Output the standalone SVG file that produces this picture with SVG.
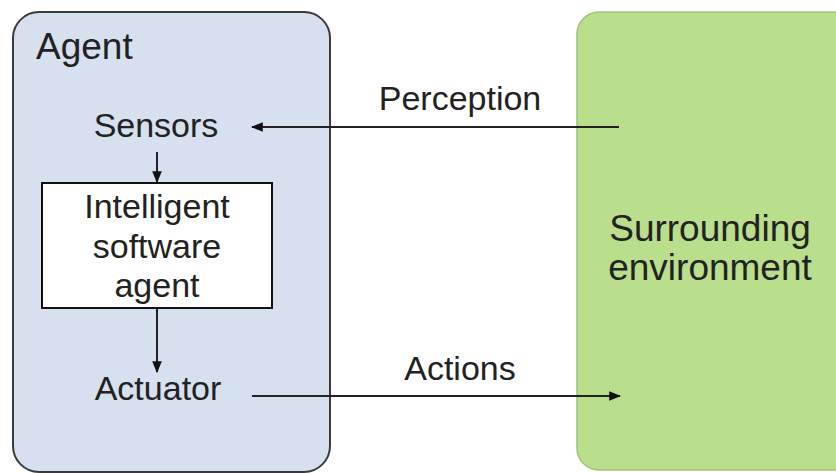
<svg xmlns="http://www.w3.org/2000/svg" width="836" height="473" viewBox="0 0 836 473">
<style>
text{font-family:"Liberation Sans",Arial,sans-serif;fill:#222;font-size:34px;}
.c{text-anchor:middle;}
.conn{stroke:#222;stroke-width:2;fill:none;}
</style>
<defs>
<marker id="ah" viewBox="0 0 10 10" refX="9" refY="5" markerWidth="12" markerHeight="12" markerUnits="userSpaceOnUse" orient="auto">
<path d="M0,1 L10,5 L0,9 z" fill="#111"/>
</marker>
</defs>
<rect width="836" height="473" fill="#fff"/>
<g id="agent">
<rect x="13" y="12" width="317" height="460" rx="26" fill="#d6e0ef" stroke="#3a3a3a" stroke-width="2"/>
<text x="36" y="59" style="font-size:37px">Agent</text>
</g>
<g id="env">
<rect x="577" y="12" width="280" height="458" rx="22" fill="#b9df8c" stroke="#9fc47a" stroke-width="1.5"/>
<text class="c" x="710" y="241" style="font-size:37px">Surrounding</text>
<text class="c" x="710" y="280" style="font-size:37px">environment</text>
</g>
<g id="sensors">
<text class="c" x="156" y="137">Sensors</text>
</g>
<g id="isa">
<rect x="42" y="183" width="230" height="125" fill="#fff" stroke="#111" stroke-width="2"/>
<text class="c" x="157" y="218">Intelligent</text>
<text class="c" x="157" y="258">software</text>
<text class="c" x="157" y="297">agent</text>
</g>
<g id="actuator">
<text class="c" x="158" y="400">Actuator</text>
</g>
<g id="connectors">
<line class="conn" x1="157" y1="152" x2="157" y2="182" marker-end="url(#ah)"/>
<line class="conn" x1="157" y1="309" x2="157" y2="372" marker-end="url(#ah)"/>
<line class="conn" x1="619" y1="127" x2="252" y2="127" marker-end="url(#ah)"/>
<line class="conn" x1="252" y1="396" x2="620" y2="396" marker-end="url(#ah)"/>
<text class="c" x="460" y="110">Perception</text>
<text class="c" x="460" y="380">Actions</text>
</g>
</svg>
